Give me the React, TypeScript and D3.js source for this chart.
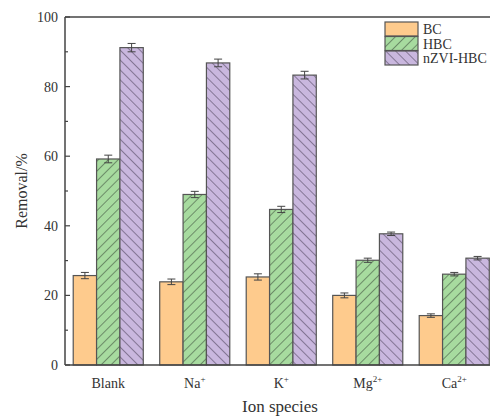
import React from "react";
import * as d3 from "d3";

const categories = ["Blank", "Na", "K", "Mg", "Ca"];
const categorySup = ["", "+", "+", "2+", "2+"];
const seriesNames = ["BC", "HBC", "nZVI-HBC"];
const bcValues = [25.7, 23.9, 25.3, 20.0, 14.2];
const hbcValues = [59.2, 49.0, 44.7, 30.1, 26.1];
const nzviValues = [91.2, 86.8, 83.3, 37.7, 30.7];
const bcErr = [0.9, 0.8, 0.9, 0.7, 0.5];
const hbcErr = [1.1, 0.9, 0.9, 0.6, 0.5];
const nzviErr = [1.2, 1.1, 1.1, 0.5, 0.5];
const yTicks = [0, 20, 40, 60, 80, 100];
const yMinorTicks = [10, 30, 50, 70, 90];

const W = 490;
const H = 418;
const left = 65;
const right = 497.5;
const top = 17;
const bottom = 365;
const font = "'Liberation Serif', 'Times New Roman', serif";

const colors = ["#FECB8D", "#A7DB9F", "#C9B7DE"];
const fills = ["#FECB8D", "url(#hatchF)", "url(#hatchB)"];

export default function App() {
  const x0 = d3.scaleBand<string>().domain(categories).range([left, right]).paddingInner(0.19).paddingOuter(0.095);
  const x1 = d3.scaleBand<string>().domain(seriesNames).range([0, x0.bandwidth()]);
  const y = d3.scaleLinear().domain([0, 100]).range([bottom, top]);

  const values = [bcValues, hbcValues, nzviValues];
  const errs = [bcErr, hbcErr, nzviErr];

  return (
    <svg width={W} height={H} style={{ position: "absolute", left: 0, top: 0, background: "#fff" }} fontFamily={font}>
      <defs>
        <pattern id="hatchF" patternUnits="userSpaceOnUse" width={7} height={7} patternTransform="rotate(45)">
          <rect width={7} height={7} fill={colors[1]} />
          <line x1={0} y1={0} x2={0} y2={7} stroke="#3a4a3a" strokeWidth={1.1} />
        </pattern>
        <pattern id="hatchB" patternUnits="userSpaceOnUse" width={7} height={7} patternTransform="rotate(-45)">
          <rect width={7} height={7} fill={colors[2]} />
          <line x1={0} y1={0} x2={0} y2={7} stroke="#4a4058" strokeWidth={1.1} />
        </pattern>
      </defs>

      {categories.map((c, i) =>
        seriesNames.map((s, j) => {
          const v = values[j][i];
          const e = errs[j][i];
          const bx = (x0(c) as number) + (x1(s) as number);
          const bw = x1.bandwidth();
          const cx = bx + bw / 2;
          return (
            <g key={c + s}>
              <rect x={bx} y={y(v)} width={bw} height={bottom - y(v)} fill={fills[j]} stroke="#555" strokeWidth={1.2} />
              <line x1={cx} x2={cx} y1={y(v + e)} y2={y(v - e)} stroke="#444" strokeWidth={1} />
              <line x1={cx - 4} x2={cx + 4} y1={y(v + e)} y2={y(v + e)} stroke="#444" strokeWidth={1} />
              <line x1={cx - 4} x2={cx + 4} y1={y(v - e)} y2={y(v - e)} stroke="#444" strokeWidth={1} />
            </g>
          );
        })
      )}

      {/* frame */}
      <line x1={left} x2={W} y1={top} y2={top} stroke="#444" strokeWidth={1.5} />
      <line x1={left} x2={W} y1={bottom} y2={bottom} stroke="#444" strokeWidth={1.5} />
      <line x1={left} x2={left} y1={top} y2={bottom} stroke="#444" strokeWidth={1.5} />

      {yTicks.map((t) => (
        <g key={"t" + t}>
          <line x1={left} x2={left + 5} y1={y(t)} y2={y(t)} stroke="#444" strokeWidth={1.2} />
          <text x={left - 7} y={y(t) + 5} textAnchor="end" fontSize={14} fill="#333">
            {t}
          </text>
        </g>
      ))}
      {yMinorTicks.map((t) => (
        <line key={"m" + t} x1={left} x2={left + 3} y1={y(t)} y2={y(t)} stroke="#444" strokeWidth={1.2} />
      ))}

      {categories.map((c, i) => {
        const cx = (x0(c) as number) + x0.bandwidth() / 2;
        return (
          <text key={"c" + c} x={cx} y={388} textAnchor="middle" fontSize={14} fill="#333">
            {c}
            {categorySup[i] && (
              <tspan dy={-6} fontSize={9}>
                {categorySup[i]}
              </tspan>
            )}
          </text>
        );
      })}

      <text x={280} y={412} textAnchor="middle" fontSize={17} fill="#333">
        Ion species
      </text>
      <text transform={`translate(27, ${(top + bottom) / 2}) rotate(-90)`} textAnchor="middle" fontSize={16} fill="#333">
        Removal/%
      </text>

      {seriesNames.map((s, j) => (
        <g key={"l" + s} transform={`translate(385, ${22 + j * 14.5})`}>
          <rect x={0} y={0} width={33} height={14} fill={fills[j]} stroke="#555" strokeWidth={1.2} />
          <text x={38} y={12} fontSize={14} fill="#333">
            {s}
          </text>
        </g>
      ))}
    </svg>
  );
}
